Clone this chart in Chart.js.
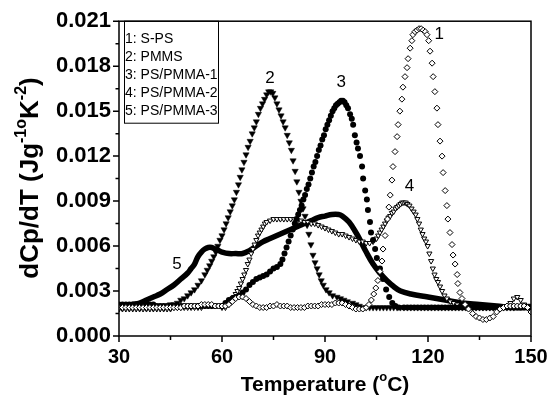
<!DOCTYPE html>
<html>
<head>
<meta charset="utf-8">
<script src="https://cdn.jsdelivr.net/npm/chart.js@4.4.1/dist/chart.umd.min.js"></script>
<style>
  body { margin: 0; background: #fff; }
  #wrap { width: 558px; height: 403px; }
</style>
</head>
<body>
<div id="wrap"><canvas id="DscChart" width="558" height="403"></canvas></div>
<script>
// tick values
const xTicks = [30, 60, 90, 120, 150];
const xMinor = [45, 75, 105, 135];
const yTicks = [0, 0.003, 0.006, 0.009, 0.012, 0.015, 0.018, 0.021];
const yMinor = [0.0015, 0.0045, 0.0075, 0.0105, 0.0135, 0.0165, 0.0195];

const legendNames = ['1: S-PS', '2: PMMS', '3: PS/PMMA-1', '4: PS/PMMA-2', '5: PS/PMMA-3'];
const peakLabels = ['1', '2', '3', '4', '5'];
const peakLabelT = [123.3, 74, 94.7, 114.6, 46.9];
const peakLabelV = [0.0201, 0.0172, 0.0169, 0.0100, 0.0048];

// 1: S-PS (open diamonds)
const s1T = [30,31,32,33,34,35,36,37,38,39,
  40,41,42,43,44,45,46,47,48,49,
  50,51,52,53,54,55,56,57,58,59,
  60,61,62,63,64,65,66,67,68,69,
  70,71,72,73,74,75,76,77,78,79,
  80,81,82,83,84,85,86,87,88,89,
  90,91,92,93,94,95,96,97,98,99,
  100,101,
  102,102.8,103.5,104.2,104.8,105.4,106,106.6,106.9,107.5,
  108.2,108.6,109,109.5,109.8,110.4,111,111.3,111.8,112.4,
  112.7,113.3,113.9,114.2,114.8,115.3,115.6,116.2,116.8,117.4,
  118,118.6,119.2,119.7,120.2,120.6,121.2,121.5,122,122.6,
  122.9,123.5,124.1,124.4,125,125.5,125.8,126.4,127,127.3,
  127.9,128.5,128.7,129.3,129.9,130.8,131.8,133,134,135,
  136,137,138,139,140,141,142,143,144,145,
  146,147,148,149,150];
const s1V = [.0019,.0019,.0019,.0019,.0019,.0019,.0019,.0019,.0019,.0019,
  .0019,.0019,.0019,.0019,.0019,.0019,.0019,.0019,.0019,.0020,
  .0020,.0020,.0020,.0020,.0021,.0021,.0021,.0021,.0020,.0020,
  .0020,.0020,.0021,.0023,.0025,.0026,.0026,.0025,.0023,.0021,
  .0020,.0019,.0019,.0019,.0020,.0020,.0021,.0020,.0020,.0020,
  .0019,.0019,.0019,.0019,.0019,.0020,.0020,.0020,.0020,.0021,
  .0021,.0021,.0021,.0022,.0022,.0022,.0021,.0020,.0019,.0018,
  .0018,.0018,
  .0019,.0021,.0024,.0028,.0032,.0037,.0043,.0050,.0058,.0067,
  .0078,.0086,.0094,.0104,.0113,.0123,.0133,.0141,.0150,.0158,
  .0166,.0173,.0179,.0185,.0192,.0197,.0201,.0203,.0204,.0205,
  .0205,.0204,.0203,.0201,.0197,.0190,.0182,.0173,.0163,.0152,
  .0141,.0130,.0120,.0109,.0097,.0087,.0078,.0069,.0061,.0054,
  .0048,.0041,.0035,.0029,.0025,.0021,.0018,.0015,.0013,.0012,
  .0011,.0011,.0012,.0013,.0016,.0018,.0019,.0020,.0020,.0020,
  .0020,.0020,.0020,.0019,.0016];

// 2: PMMS (filled down triangles)
const s2T = [30,31,32,33,34,35,36,37,38,39,
  40,41,42,43,44,45,46,47,48,49,
  50,51,52,53,54,55,
  55.7,56.4,57,57.6,58.2,58.8,59.4,60,60.6,61.2,
  61.8,62.4,63,63.6,64.2,64.8,65.3,65.8,66.4,67,
  67.6,68.2,68.8,69.4,70,70.6,71.2,71.8,72.4,73,
  73.6,74.2,74.8,75.4,76,76.6,77.2,77.8,78.4,79,
  79.6,80.2,80.7,81.3,81.8,82.4,83,83.6,84.2,84.8,
  85.3,85.9,86.5,87.1,87.7,88.3,88.9,89.5,90.3,91.2,
  92.2,93.5,94.5,95.5,96.5,98,99,100,101,102,
  103,104,105,106,107,108,109,110,111,112,
  113,114,115,116,117,118,119,120,121,122,
  123,124,125,126,127,128,129,130,131,132,
  133,134,135,136,137,138,139,140,141,142,
  143,144,145,146,147,148,149,150];
const s2V = [.0020,.0020,.0020,.0020,.0020,.0020,.0020,.0020,.0020,.0020,
  .0020,.0020,.0020,.0020,.0020,.0021,.0021,.0022,.0024,.0025,
  .0027,.0029,.0031,.0034,.0037,.0041,
  .0044,.0047,.0050,.0053,.0056,.0060,.0064,.0067,.0071,.0075,
  .0079,.0083,.0087,.0091,.0096,.0101,.0106,.0111,.0116,.0121,
  .0126,.0130,.0135,.0139,.0143,.0148,.0152,.0155,.0158,.0161,
  .0163,.0163,.0162,.0159,.0155,.0151,.0147,.0143,.0139,.0134,
  .0129,.0124,.0117,.0110,.0103,.0096,.0090,.0085,.0080,.0074,
  .0068,.0061,.0054,.0049,.0045,.0041,.0037,.0034,.0031,.0029,
  .0027,.0026,.0025,.0024,.0023,.0022,.0021,.0020,.0019,.0019,
  .0019,.0019,.0019,.0019,.0019,.0019,.0019,.0019,.0019,.0019,
  .0019,.0019,.0019,.0019,.0019,.0019,.0019,.0019,.0019,.0019,
  .0019,.0019,.0019,.0019,.0019,.0019,.0019,.0019,.0019,.0019,
  .0019,.0019,.0019,.0019,.0019,.0019,.0019,.0019,.0019,.0019,
  .0019,.0019,.0019,.0020,.0020,.0020,.0020,.0020];

// 3: PS/PMMA-1 (filled circles)
const s3T = [30,31,32,33,34,35,36,37,38,39,
  40,41,42,43,44,45,46,47,48,49,
  50,51,52,53,54,55,56,57,58,59,
  60,61,62,63,64,65,66,67,68,69,
  70,71,72,73,74,75,76,77,
  77.6,78.2,78.8,79.4,80,80.6,81.2,81.7,82.2,82.7,
  83.2,83.7,84.2,84.7,85.2,85.7,86.2,86.7,87.2,87.7,
  88.2,88.7,89.2,89.7,90.2,90.7,91.2,91.7,92.2,92.7,
  93.2,93.7,94.2,94.7,95.2,95.7,96.2,96.7,97.3,97.8,
  98.2,98.7,99.2,99.6,100.2,100.8,101.1,101.7,102.2,102.5,
  103.1,103.4,104,104.6,105.1,106,106.9,107.8,108.7,109.6,
  110.5,111.5,
  113,114,115,116,117,118,119,120,121,122,
  123,124,125,126,127,128,129,130,131,132,
  133,134,135,136,137,138,139,140,141,142,
  143,144,145,146,147,148,149,150];
const s3V = [.0021,.0021,.0021,.0021,.0021,.0021,.0021,.0021,.0021,.0021,
  .0021,.0020,.0020,.0020,.0020,.0020,.0020,.0020,.0020,.0020,
  .0020,.0020,.0020,.0020,.0020,.0020,.0020,.0020,.0020,.0020,
  .0020,.0022,.0024,.0025,.0026,.0027,.0029,.0031,.0034,.0036,
  .0038,.0039,.0040,.0041,.0043,.0045,.0046,.0048,
  .0051,.0055,.0059,.0063,.0067,.0071,.0075,.0078,.0081,.0084,
  .0087,.0091,.0094,.0098,.0101,.0105,.0109,.0113,.0116,.0120,
  .0124,.0127,.0131,.0134,.0138,.0141,.0144,.0147,.0150,.0152,
  .0154,.0155,.0156,.0157,.0157,.0156,.0154,.0152,.0148,.0145,
  .0141,.0134,.0129,.0125,.0120,.0113,.0105,.0097,.0091,.0084,
  .0076,.0069,.0064,.0058,.0052,.0045,.0038,.0031,.0026,.0022,
  .0020,.0019,
  .0019,.0019,.0019,.0019,.0019,.0019,.0019,.0019,.0019,.0019,
  .0019,.0019,.0019,.0019,.0019,.0019,.0019,.0019,.0019,.0019,
  .0019,.0019,.0019,.0019,.0019,.0019,.0019,.0019,.0019,.0019,
  .0019,.0019,.0019,.0019,.0019,.0019,.0019,.0019];

// 4: PS/PMMA-2 (open down triangles)
const s4T = [30,31,32,33,34,35,36,37,38,39,
  40,41,42,43,44,45,46,47,48,49,
  50,51,52,53,54,55,56,57,58,59,
  60,61,
  62,62.5,63,63.5,64,64.5,65,65.5,66,66.5,
  67,67.5,68,68.5,69,69.5,70,70.5,71,71.5,
  72,72.5,73,
  74,75,76,77,78,79,80,81,82,83,
  84,85,86,87,88,89,90,91,92,93,
  94,95,96,97,98,99,100,101,102,103,
  104,105,
  105.5,106,106.5,107,107.5,108,108.5,109,109.5,110,
  110.5,111,111.5,112,112.5,113,113.5,114,114.6,115.2,
  115.8,116.4,116.9,117.4,117.9,118.4,118.9,119.4,119.9,120.4,
  120.9,121.4,121.9,122.4,122.9,123.5,124.1,124.8,125.5,126.5,
  127.5,128.5,
  130,131,132,133,134,135,136,137,138,139,
  140,141,142,143,144,145,146,147,148,149,
  150];
const s4V = [.0018,.0018,.0018,.0018,.0018,.0018,.0018,.0018,.0018,.0018,
  .0018,.0018,.0018,.0018,.0018,.0018,.0019,.0019,.0019,.0019,
  .0019,.0019,.0019,.0019,.0019,.0020,.0020,.0020,.0020,.0020,
  .0019,.0019,
  .0021,.0022,.0024,.0026,.0028,.0030,.0032,.0035,.0038,.0041,
  .0044,.0048,.0051,.0055,.0058,.0061,.0064,.0067,.0069,.0071,
  .0073,.0075,.0076,
  .0077,.0078,.0078,.0078,.0078,.0078,.0078,.0078,.0077,.0077,
  .0076,.0076,.0075,.0075,.0074,.0073,.0072,.0071,.0070,.0069,
  .0068,.0068,.0067,.0066,.0065,.0064,.0063,.0063,.0062,.0062,
  .0063,.0065,
  .0067,.0069,.0071,.0073,.0075,.0077,.0079,.0080,.0082,.0083,
  .0085,.0086,.0087,.0088,.0089,.0089,.0089,.0088,.0087,.0085,
  .0083,.0081,.0078,.0075,.0071,.0068,.0065,.0063,.0060,.0055,
  .0050,.0045,.0041,.0038,.0036,.0033,.0030,.0027,.0025,.0023,
  .0022,.0021,
  .0020,.0020,.0020,.0019,.0019,.0019,.0019,.0019,.0019,.0019,
  .0019,.0019,.0019,.0020,.0022,.0025,.0026,.0024,.0021,.0019,
  .0019];

// 5: PS/PMMA-3 (thick line)
const s5T = [30,32,34,36,38,40,42,44,46,48,
  50,51,52,53,54,55,56,57,58,59,
  60,62,64,66,68,70,72,74,76,78,
  80,82,84,86,88,90,92,94,95,97,
  99,100,102,104,106,108,110,112,115,120,
  125,130,135,140,145,150];
const s5V = [.0019,.0020,.0021,.0022,.0024,.0026,.0028,.0031,.0034,.0038,
  .0042,.0045,.0048,.0053,.0056,.0058,.0059,.0059,.0058,.0057,
  .0056,.0055,.0055,.0055,.0057,.0060,.0063,.0065,.0067,.0069,
  .0071,.0073,.0075,.0077,.0079,.0080,.0081,.0081,.0080,.0076,
  .0069,.0065,.0056,.0048,.0042,.0037,.0033,.0030,.0028,.0026,
  .0024,.0022,.0021,.0020,.0019,.0019];

function pts(t, v){
  var out = [];
  for (let i = 0; i < t.length; ++i) out.push({x: t[i], y: v[i]});
  return out;
}

const FONT = '"Liberation Sans", Arial, sans-serif';

// draws text with superscript pieces, centered at (cx, cy)
function richText(ctx, parts, cx, cy, angle, size){
  const supSize = Math.round(size * 0.62);
  let w = 0;
  parts.forEach(p => {
    ctx.font = 'bold ' + (p.sup ? supSize : size) + 'px ' + FONT;
    p.w = ctx.measureText(p.t).width;
    w += p.w;
  });
  ctx.save();
  ctx.translate(cx, cy);
  ctx.rotate(angle);
  ctx.textBaseline = 'middle';
  ctx.textAlign = 'left';
  let x = -w / 2;
  parts.forEach(p => {
    ctx.font = 'bold ' + (p.sup ? supSize : size) + 'px ' + FONT;
    ctx.fillText(p.t, x, p.sup ? -size * 0.38 : 0);
    x += p.w;
  });
  ctx.restore();
}

const framePlugin = {
  id: 'frame',
  afterDraw(chart){
    const ctx = chart.ctx, a = chart.chartArea;
    const xs = chart.scales.x, ys = chart.scales.y;
    ctx.save();
    ctx.strokeStyle = '#000';
    ctx.fillStyle = '#000';
    ctx.lineWidth = 1.5;
    ctx.strokeRect(a.left, a.top, a.right - a.left, a.bottom - a.top);
    ctx.beginPath();
    yTicks.forEach(v => { const p = ys.getPixelForValue(v); ctx.moveTo(a.left - 6, p); ctx.lineTo(a.left, p); });
    yMinor.forEach(v => { const p = ys.getPixelForValue(v); ctx.moveTo(a.left - 3.5, p); ctx.lineTo(a.left, p); });
    xTicks.forEach(v => { const p = xs.getPixelForValue(v); ctx.moveTo(p, a.bottom); ctx.lineTo(p, a.bottom + 6); });
    xMinor.forEach(v => { const p = xs.getPixelForValue(v); ctx.moveTo(p, a.bottom); ctx.lineTo(p, a.bottom + 4); });
    ctx.stroke();

    // legend box
    ctx.lineWidth = 1;
    ctx.strokeRect(a.left + 5.5, a.top, 94, 102);
    ctx.font = '14px ' + FONT;
    ctx.textBaseline = 'middle';
    ctx.textAlign = 'left';
    legendNames.forEach((n, i) => ctx.fillText(n, a.left + 6, a.top + 18 + i * 18.1));

    // peak labels
    ctx.font = '17px ' + FONT;
    ctx.textAlign = 'center';
    peakLabels.forEach((l, i) => ctx.fillText(l, xs.getPixelForValue(peakLabelT[i]), ys.getPixelForValue(peakLabelV[i])));

    // axis titles
    richText(ctx, [{t: 'Temperature ('}, {t: 'o', sup: true}, {t: 'C)'}], (a.left + a.right) / 2, 385, 0, 21);
    richText(ctx, [{t: 'dCp/dT (Jg'}, {t: '-1', sup: true}, {t: 'o', sup: true}, {t: 'K'}, {t: '-2', sup: true}, {t: ')'}], 31, 178, -Math.PI / 2, 26);
    ctx.restore();
  }
};

const ctx = document.getElementById('DscChart');
const data = {
  datasets: [
    {
      label: '1: S-PS',
      data: pts(s1T, s1V),
      showLine: false,
      pointStyle: 'rectRot',
      pointRadius: 3,
      pointBorderWidth: 1,
      pointBorderColor: '#000',
      pointBackgroundColor: '#fff'
    },
    {
      label: '2: PMMS',
      data: pts(s2T, s2V),
      showLine: false,
      pointStyle: 'triangle',
      rotation: 180,
      pointRadius: 3.6,
      pointBorderWidth: 0.5,
      pointBorderColor: '#000',
      pointBackgroundColor: '#000'
    },
    {
      label: '3: PS/PMMA-1',
      data: pts(s3T, s3V),
      showLine: false,
      pointStyle: 'circle',
      pointRadius: 3,
      pointBorderWidth: 0,
      pointBackgroundColor: '#000'
    },
    {
      label: '4: PS/PMMA-2',
      data: pts(s4T, s4V),
      showLine: false,
      pointStyle: 'triangle',
      rotation: 180,
      pointRadius: 3,
      pointBorderWidth: 1,
      pointBorderColor: '#000',
      pointBackgroundColor: '#fff'
    },
    {
      label: '5: PS/PMMA-3',
      data: pts(s5T, s5V),
      showLine: true,
      borderColor: '#000',
      borderWidth: 5.5,
      tension: 0.4,
      pointRadius: 0
    }
  ]
};

const config = {
  type: 'scatter',
  data: data,
  options: {
    responsive: false,
    animation: false,
    devicePixelRatio: 1,
    layout: { padding: { left: 0, top: 15, right: 27, bottom: 0 } },
    plugins: { legend: { display: false }, tooltip: { enabled: false } },
    scales: {
      x: {
        type: 'linear',
        min: 30,
        max: 150,
        afterBuildTicks: s => { s.ticks = xTicks.map(v => ({value: v})); },
        afterFit: s => { s.height = 67; },
        grid: { display: false, drawTicks: false },
        border: { display: false },
        ticks: { color: '#000', padding: 9, font: { family: FONT, size: 20, weight: 'bold' } }
      },
      y: {
        type: 'linear',
        min: 0,
        max: 0.021,
        afterBuildTicks: s => { s.ticks = yTicks.map(v => ({value: v})); },
        afterFit: s => { s.width = 119; },
        grid: { display: false, drawTicks: false },
        border: { display: false },
        ticks: {
          color: '#000',
          padding: 8,
          font: { family: FONT, size: 22, weight: 'bold' },
          callback: v => v.toFixed(3)
        }
      }
    }
  },
  plugins: [framePlugin]
};
const dscChart = new Chart(ctx, config);
</script>
</body>
</html>
